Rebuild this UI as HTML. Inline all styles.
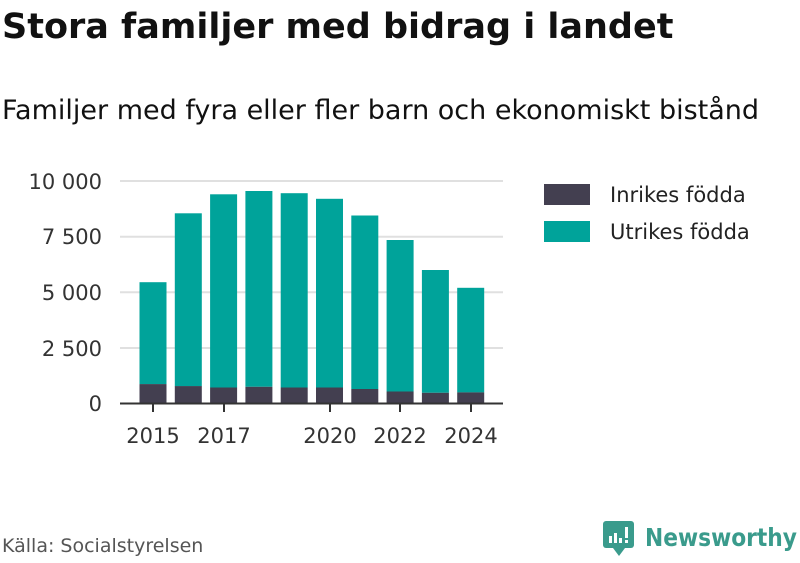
<!DOCTYPE html><html><head><style>body{margin:0;background:#fff;width:800px;height:558px;overflow:hidden;font-family:"Liberation Sans","DejaVu Sans",sans-serif}</style></head><body>
<svg width="800" height="558" xmlns="http://www.w3.org/2000/svg" font-family="DejaVu Sans, Liberation Sans, sans-serif">
<text x="2" y="38" font-size="35" font-weight="bold" fill="#111">Stora familjer med bidrag i landet</text>
<text x="2" y="119" font-size="27" fill="#111">Familjer med fyra eller fler barn och ekonomiskt bistånd</text>
<g stroke="#e0e0e0" stroke-width="2"><line x1="120" x2="503" y1="181" y2="181"/><line x1="120" x2="503" y1="236.7" y2="236.7"/><line x1="120" x2="503" y1="292.3" y2="292.3"/><line x1="120" x2="503" y1="348" y2="348"/></g>
<g font-size="21" fill="#333" text-anchor="end"><text x="102" y="189">10 000</text><text x="102" y="244">7 500</text><text x="102" y="300">5 000</text><text x="102" y="356">2 500</text><text x="102" y="411">0</text></g>
<g fill="#00a39a">
<rect x="139.5" y="282.2" width="27" height="102"/>
<rect x="174.8" y="213.3" width="27" height="173"/>
<rect x="210.1" y="194.3" width="27" height="193.2"/>
<rect x="245.4" y="191" width="27" height="195.8"/>
<rect x="280.7" y="193.2" width="27" height="194.3"/>
<rect x="316" y="198.8" width="27" height="188.7"/>
<rect x="351.3" y="215.5" width="27" height="173.5"/>
<rect x="386.6" y="240" width="27" height="151.5"/>
<rect x="421.9" y="270" width="27" height="122.8"/>
<rect x="457.2" y="287.8" width="27" height="104.6"/>
</g>
<g fill="#433f50">
<rect x="139.5" y="384.1" width="27" height="19.4"/>
<rect x="174.8" y="386.1" width="27" height="17.4"/>
<rect x="210.1" y="387.5" width="27" height="16"/>
<rect x="245.4" y="386.8" width="27" height="16.7"/>
<rect x="280.7" y="387.5" width="27" height="16"/>
<rect x="316" y="387.5" width="27" height="16"/>
<rect x="351.3" y="389" width="27" height="14.5"/>
<rect x="386.6" y="391.5" width="27" height="12"/>
<rect x="421.9" y="392.8" width="27" height="10.7"/>
<rect x="457.2" y="392.4" width="27" height="11.1"/>
</g>
<line x1="120" x2="503" y1="403.5" y2="403.5" stroke="#333" stroke-width="2"/>
<g stroke="#333" stroke-width="2"><line x1="153" x2="153" y1="404" y2="412"/><line x1="224" x2="224" y1="404" y2="412"/><line x1="330" x2="330" y1="404" y2="412"/><line x1="400" x2="400" y1="404" y2="412"/><line x1="471" x2="471" y1="404" y2="412"/></g>
<g font-size="21" fill="#333" text-anchor="middle"><text x="153" y="443">2015</text><text x="224" y="443">2017</text><text x="330" y="443">2020</text><text x="400" y="443">2022</text><text x="471" y="443">2024</text></g>
<rect x="544" y="184" width="46" height="21" fill="#433f50"/><text x="610" y="202" font-size="21" fill="#222">Inrikes födda</text>
<rect x="544" y="221" width="46" height="21" fill="#00a39a"/><text x="610" y="239" font-size="21" fill="#222">Utrikes födda</text>
<text x="2" y="552" font-size="19" fill="#555">Källa: Socialstyrelsen</text>
<g transform="translate(603,521)"><rect x="0" y="0" width="31" height="27" rx="3" fill="#3a9b8c"/><polygon points="10,27 22,27 16,35" fill="#3a9b8c"/><rect x="6" y="15" width="3" height="7" fill="#fff"/><rect x="11" y="12" width="3" height="10" fill="#fff"/><rect x="16" y="17" width="3" height="5" fill="#fff"/><rect x="22" y="6" width="3" height="11" fill="#fff"/><rect x="22" y="19" width="3" height="3" fill="#fff"/></g>
<text x="645" y="546" font-size="25" font-weight="bold" fill="#3a9b8c" textLength="152" lengthAdjust="spacingAndGlyphs">Newsworthy</text>
</svg></body></html>
